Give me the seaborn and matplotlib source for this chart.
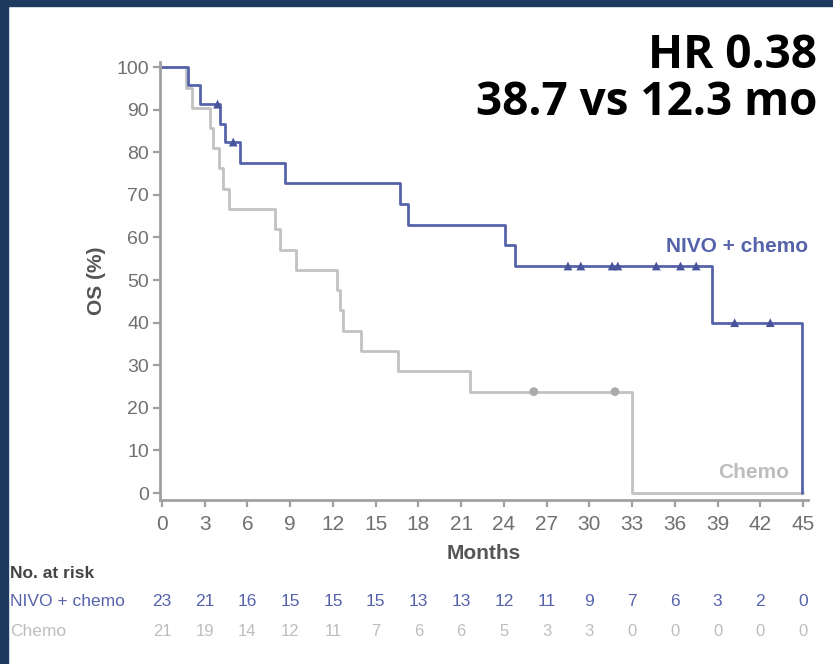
import matplotlib
matplotlib.use("Agg")
from matplotlib import pyplot as plt
from matplotlib.patches import Rectangle
from matplotlib.transforms import blended_transform_factory
import pandas as pd
import seaborn as sns

# Kaplan-Meier curves (months, OS %)
nivo_months = [0, 1.8, 2.7, 4.1, 4.4, 5.5, 8.6, 16.7, 17.3, 24.1, 24.8, 38.6, 44.9]
nivo_os = [100, 95.7, 91.3, 86.7, 82.4, 77.5, 72.7, 67.8, 63.0, 58.2, 53.3, 40.0, 0]
nivo_cens_months = [3.9, 5.0, 28.5, 29.4, 31.6, 32.0, 34.7, 36.4, 37.5, 40.2, 42.7]
nivo_cens_os = [91.3, 82.4, 53.3, 53.3, 53.3, 53.3, 53.3, 53.3, 53.3, 40.0, 40.0]

chemo_months = [0, 1.7, 2.1, 3.4, 3.6, 4.0, 4.3, 4.7, 7.9, 8.3, 9.4,
                12.3, 12.5, 12.7, 14.0, 16.6, 21.6, 33.0, 45.0]
chemo_os = [100, 95.2, 90.5, 85.7, 81.0, 76.2, 71.4, 66.7, 61.9, 57.1, 52.4,
            47.6, 42.9, 38.1, 33.3, 28.6, 23.8, 0, 0]
chemo_cens_months = [26.1, 31.8]
chemo_cens_os = [23.8, 23.8]

risk_months = list(range(0, 46, 3))
nivo_risk = [23, 21, 16, 15, 15, 15, 13, 13, 12, 11, 9, 7, 6, 3, 2, 0]
chemo_risk = [21, 19, 14, 12, 11, 7, 6, 6, 5, 3, 3, 0, 0, 0, 0, 0]

blue = "#5663aa"
blue_dark = "#48549c"
grey = "#c2c2c2"
navy = "#1e3a5e"

sns.set_style("ticks")
plt.rcParams['font.family'] = ['Liberation Sans', 'DejaVu Sans']

fig = plt.figure(figsize=(8.33, 6.64), dpi=100)
fig.patch.set_facecolor("white")
ax = fig.add_axes([160 / 833, 1 - 500 / 664, 648 / 833, 438 / 664])

nivo = pd.DataFrame({"month": nivo_months, "os": nivo_os})
chemo = pd.DataFrame({"month": chemo_months, "os": chemo_os})
sns.lineplot(data=chemo, x="month", y="os", drawstyle="steps-post",
             estimator=None, color=grey, linewidth=2.0, ax=ax)
sns.lineplot(data=nivo, x="month", y="os", drawstyle="steps-post",
             estimator=None, color=blue, linewidth=2.0, ax=ax)
sns.scatterplot(x=chemo_cens_months, y=chemo_cens_os, marker="o", s=40,
                color="#ababab", edgecolor="none", ax=ax, zorder=4)
sns.scatterplot(x=nivo_cens_months, y=nivo_cens_os, marker="^", s=40,
                color=blue_dark, edgecolor="none", ax=ax, zorder=4)

ax.set_xlim(-0.14, 45.35)
ax.set_ylim(-1.64, 101.2)
ax.set_xticks(risk_months)
ax.set_yticks(range(0, 101, 10))
for side in ["top", "right"]:
    ax.spines[side].set_visible(False)
for side in ["left", "bottom"]:
    ax.spines[side].set_color("#a0a0a0")
    ax.spines[side].set_linewidth(2)
ax.tick_params(axis="both", colors="#a0a0a0", length=5, width=1.6,
               labelcolor="#707070")
ax.tick_params(axis="x", labelsize=15, pad=6)
ax.tick_params(axis="y", labelsize=14, pad=3)

ax.set_xlabel("Months", fontsize=15, fontweight="bold", color="#555555")
ax.set_ylabel("OS (%)", fontsize=15, fontweight="bold", color="#555555")
ax.xaxis.set_label_coords(0.5, -0.1)
ax.yaxis.set_label_coords(-0.083, 0.5)

# curve labels
fig.text(808 / 833, 1 - 247 / 664, "NIVO + chemo", ha="right", va="center",
         fontsize=15, fontweight="bold", color=blue)
fig.text(789 / 833, 1 - 473 / 664, "Chemo", ha="right", va="center",
         fontsize=15, fontweight="bold", color="#bdbdbd")

# headline
fig.text(817 / 833, 1 - 68 / 664, "HR 0.38", ha="right", va="baseline",
         fontsize=33, fontweight="bold", color="black", family="Open Sans")
fig.text(817 / 833, 1 - 115 / 664, "38.7 vs 12.3 mo", ha="right", va="baseline",
         fontsize=33, fontweight="bold", color="black", family="Open Sans")

# number at risk table
fig.text(10 / 833, 1 - 574 / 664, "No. at risk", ha="left", va="center",
         fontsize=12.5, fontweight="bold", color="#444444")
fig.text(10 / 833, 1 - 602 / 664, "NIVO + chemo", ha="left", va="center",
         fontsize=12.5, color=blue)
fig.text(10 / 833, 1 - 632 / 664, "Chemo", ha="left", va="center",
         fontsize=12.5, color="#bdbdbd")
trans = blended_transform_factory(ax.transData, fig.transFigure)
for m, n_nivo, n_chemo in zip(risk_months, nivo_risk, chemo_risk):
    ax.text(m, 1 - 602 / 664, str(n_nivo), transform=trans, ha="center",
            va="center", fontsize=12.5, color=blue)
    ax.text(m, 1 - 632 / 664, str(n_chemo), transform=trans, ha="center",
            va="center", fontsize=12, color="#bdbdbd")

# slide frame
fig.add_artist(Rectangle((0, 0), 8 / 833, 1, transform=fig.transFigure,
                         color=navy, zorder=10))
fig.add_artist(Rectangle((0, 1 - 6 / 664), 1, 6 / 664, transform=fig.transFigure,
                         color=navy, zorder=10))

fig.savefig("out.png", dpi=100)
